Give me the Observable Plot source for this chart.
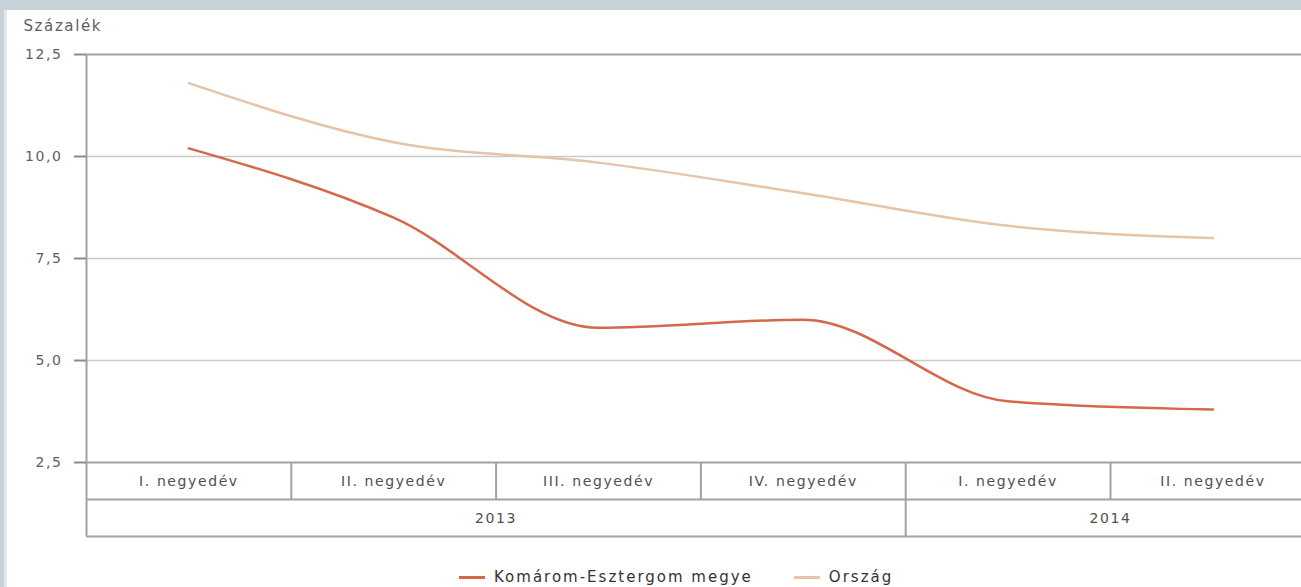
<!DOCTYPE html>
<html>
<head>
<meta charset="utf-8">
<script src="https://cdn.jsdelivr.net/npm/d3@7"></script>
<script src="https://cdn.jsdelivr.net/npm/@observablehq/plot@0.6"></script>
<style>
  html, body { margin: 0; padding: 0; width: 1301px; height: 587px; overflow: hidden; background: #c6d1d8; }
  #stripe { position: absolute; left: 4px; top: 10px; width: 3px; height: 577px; background: #e2e8eb; }
  #panel { position: absolute; left: 7px; top: 10px; width: 1294px; height: 577px; background: #ffffff; }
  #chart { position: absolute; left: 0; top: 0; }
  #chart svg { background: transparent !important; }
  #chart svg text { letter-spacing: 1.6px; }
  #legend { position: absolute; left: 459px; top: 568px; display: flex; align-items: center;
            font-family: "DejaVu Sans", sans-serif; font-size: 15px; letter-spacing: 2px; color: #333; }
  .sw { display: inline-block; width: 26px; height: 3px; margin-right: 9px; }
  .item { display: flex; align-items: center; margin-right: 41px; }
</style>
</head>
<body>
<div id="stripe"></div>
<div id="panel"></div>
<div id="chart"></div>
<div id="legend"></div>
<script>
// ---- data ----
const quarters = ["I. negyedév", "II. negyedév", "III. negyedév", "IV. negyedév", "I. negyedév", "II. negyedév"];
const years = ["2013", "2013", "2013", "2013", "2014", "2014"];
const seriesNames = ["Komárom-Esztergom megye", "Ország"];
const komarom = [10.2, 8.5, 5.8, 6.0, 4.0, 3.8];
const orszag = [11.8, 10.35, 9.85, 9.1, 8.3, 8.0];
const yTicks = [2.5, 5.0, 7.5, 10.0, 12.5];
const colors = ["#d5684b", "#e7c4a7"];
const yAxisTitle = "Százalék";

// ---- derived tables ----
const idx = quarters.map((_, i) => i);
const rows = [
  ...komarom.map((v, i) => ({i, value: v, series: seriesNames[0]})),
  ...orszag.map((v, i) => ({i, value: v, series: seriesNames[1]}))
];
const quarterRows = idx.map(i => ({i, label: quarters[i]}));
const yearRows = Array.from(d3.group(idx, i => years[i]), ([year, is]) => ({year, center: d3.mean(is)}));
const quarterBounds = idx.slice(1).filter(i => years[i] === years[i - 1]).map(i => i - 0.5)
  .concat([idx.length - 0.5]);
const yearBounds = idx.slice(1).filter(i => years[i] !== years[i - 1]).map(i => i - 0.5);
const fmt = d => d.toFixed(1).replace(".", ",");
const frameColor = "#a2a2a2";

const chart = Plot.plot({
  width: 1301,
  height: 550,
  marginLeft: 86,
  marginTop: 54,
  marginBottom: 88,
  marginRight: 0,
  style: {fontFamily: "DejaVu Sans, sans-serif", fontSize: "14px", color: "#606060", background: "transparent", overflow: "visible"},
  x: {type: "linear", domain: [-0.5, quarters.length - 0.5], range: [86, 86 + 204.8 * quarters.length], axis: null},
  y: {domain: [yTicks[0], yTicks[yTicks.length - 1]], axis: null},
  color: {domain: seriesNames, range: colors},
  marks: [
    Plot.gridY(yTicks.slice(1, -1), {stroke: "#cacaca", strokeOpacity: 1, strokeWidth: 1.5}),
    Plot.ruleY([yTicks[yTicks.length - 1]], {stroke: frameColor, strokeWidth: 2}),
    Plot.ruleY([yTicks[0]], {stroke: frameColor, strokeWidth: 2}),
    Plot.ruleY([yTicks[0]], {stroke: frameColor, strokeWidth: 2, dy: 37}),
    Plot.ruleY([yTicks[0]], {stroke: frameColor, strokeWidth: 2, dy: 74}),
    Plot.ruleX([-0.5], {stroke: frameColor, strokeWidth: 2, insetBottom: -74}),
    Plot.ruleX(quarterBounds, {y1: yTicks[0], y2: yTicks[0], stroke: frameColor, strokeWidth: 2, insetBottom: -37}),
    Plot.ruleX(yearBounds, {y1: yTicks[0], y2: yTicks[0], stroke: frameColor, strokeWidth: 2, insetBottom: -74}),
    Plot.axisY(yTicks, {tickSize: 12, tickPadding: 12, tickFormat: fmt, stroke: "#8a8a8a", strokeWidth: 2, fill: "#606060", fontSize: 14, label: null}),
    Plot.text([yAxisTitle], {frameAnchor: "top-left", dx: -63, dy: -28, textAnchor: "start", lineAnchor: "middle", fontSize: 15, fill: "#606060"}),
    Plot.text(quarterRows, {x: "i", text: "label", frameAnchor: "bottom", dy: 19, lineAnchor: "middle", fill: "#505050", fontSize: 14}),
    Plot.text(yearRows, {x: "center", text: "year", frameAnchor: "bottom", dy: 56, lineAnchor: "middle", fill: "#505050", fontSize: 14}),
    Plot.line(rows, {x: "i", y: "value", z: "series", stroke: "series", strokeWidth: 2.5, curve: "monotone-x"})
  ]
});
document.getElementById("chart").appendChild(chart);

const legend = document.getElementById("legend");
seriesNames.forEach((name, k) => {
  const item = document.createElement("div");
  item.className = "item";
  const sw = document.createElement("span");
  sw.className = "sw";
  sw.style.background = colors[k];
  const t = document.createElement("span");
  t.textContent = name;
  item.appendChild(sw);
  item.appendChild(t);
  legend.appendChild(item);
});
</script>
</body>
</html>
